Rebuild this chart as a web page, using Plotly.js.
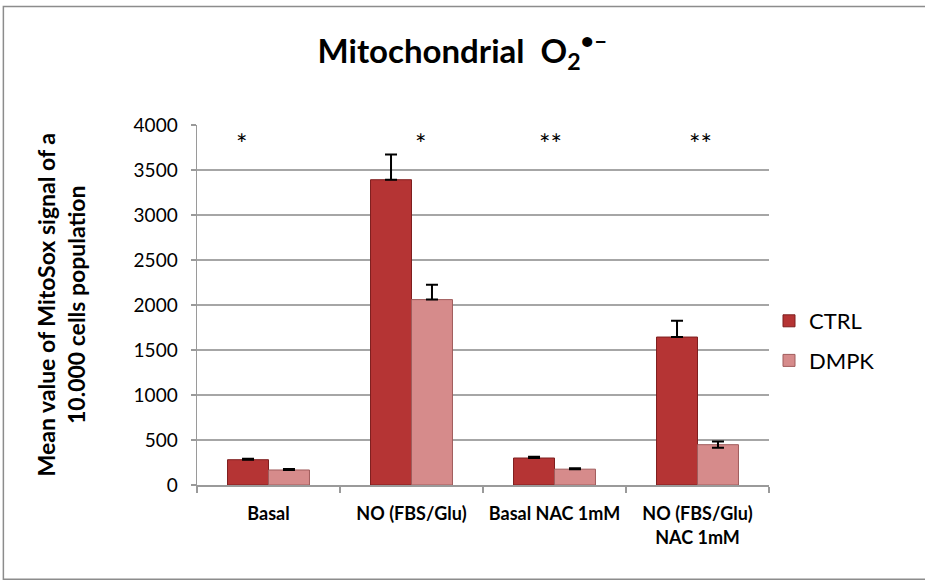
<!DOCTYPE html>
<html>
<head>
<meta charset="utf-8">
<script src="https://cdn.plot.ly/plotly-3.0.1.min.js"></script>
<style>html,body{margin:0;padding:0;background:#fff;}#chart{width:925px;height:585px;}</style>
</head>
<body>
<div id="chart"></div>
<script>
const categories = ["Basal", "NO (FBS/Glu)", "Basal NAC 1mM", "NO (FBS/Glu)<br>NAC 1mM"];
const ctrlValues = [281, 3392, 300, 1644];
const ctrlErrors = [10, 280, 15, 182];
const dmpkValues = [167, 2060, 176, 448];
const dmpkErrors = [10, 165, 10, 35];
const dmpkErrorsMinus = [0, 0, 0, 35];
const ctrlErrorsMinus = [0, 0, 0, 0];
const significance = ["*", "*", "**", "**"];
const sigLevel = [3800, 3800, 3800, 3800];
const yTicks = [0, 500, 1000, 1500, 2000, 2500, 3000, 3500, 4000];

const font = "Lato, 'Open Sans', sans-serif";

const traces = [
  {
    type: "bar", name: "CTRL", x: categories, y: ctrlValues, legendgroup: "a",
    marker: {color: "#B53434", line: {color: "#7E1E1E", width: 1}},
    error_y: {type: "data", array: ctrlErrors, arrayminus: ctrlErrorsMinus, symmetric: false, color: "#000", thickness: 2, width: 6}
  },
  {
    type: "bar", name: "DMPK", x: categories, y: dmpkValues, legendgroup: "b",
    marker: {color: "#D68B8B", line: {color: "#A05C5C", width: 1}},
    error_y: {type: "data", array: dmpkErrors, arrayminus: dmpkErrorsMinus, symmetric: false, color: "#000", thickness: 2, width: 6}
  }
];

const sigShift = [-27, 9, -4, 3];
const annotations = categories.map((c, i) => ({
  x: c, y: sigLevel[i], xref: "x", yref: "y", text: significance[i], showarrow: false,
  xshift: sigShift[i], yanchor: "middle", font: {family: font, size: 27, color: "#000"}
}));
annotations.push({
  x: -0.237, y: 0.5, xref: "paper", yref: "paper", textangle: -90, showarrow: false,
  text: "<b>Mean value of MitoSox signal of a<br>10.000 cells population</b>",
  font: {family: font, size: 23, color: "#000", weight: "bold"}, xanchor: "center", yanchor: "middle"
});

const layout = {
  width: 925, height: 585,
  margin: {l: 197, r: 156, t: 125, b: 100},
  paper_bgcolor: "#fff", plot_bgcolor: "#fff",
  title: {
    text: "<b>Mitochondrial  O<sub>2</sub><sup>•–</sup></b>",
    x: 0.5, xref: "container", y: 0.912, yref: "container", yanchor: "middle", xanchor: "center",
    font: {family: font, size: 33, color: "#000", weight: "bold"}
  },
  barmode: "group", bargap: 0.427, bargroupgap: 0,
  xaxis: {
    showgrid: false, showline: true, linecolor: "#9a9a9a", linewidth: 1.5,
    ticks: "outside", tickson: "boundaries", ticklen: 6, tickcolor: "#9a9a9a", tickwidth: 1.5,
    tickfont: {family: font, size: 18, color: "#000", weight: "bold"},
    tickangle: 0,
    ticklabelstandoff: 12,
    fixedrange: true
  },
  yaxis: {
    range: [0, 4000], tickvals: yTicks, ticktext: yTicks.map(String),
    showgrid: true, gridcolor: "#a6a6a6", gridwidth: 1.5,
    showline: true, linecolor: "#9a9a9a", linewidth: 1.5, zeroline: false,
    ticks: "outside", ticklen: 5, tickcolor: "#9a9a9a", tickwidth: 1.5,
    tickfont: {family: font, size: 19, color: "#000"},
    ticklabelstandoff: 9,
    fixedrange: true
  },
  legend: {
    x: 1.0, y: 0.40, xanchor: "left", yanchor: "middle",
    font: {family: font, size: 22, color: "#000"},
    traceorder: "grouped", tracegroupgap: 8, bgcolor: "rgba(0,0,0,0)"
  },
  annotations: annotations,
  shapes: [{
    type: "rect", xref: "paper", yref: "paper",
    x0: -0.3385, x1: 1.29, y0: -0.262, y1: 1.329,
    line: {color: "#8c8c8c", width: 1.5}, fillcolor: "rgba(0,0,0,0)", layer: "below"
  }],
  showlegend: true
};

Plotly.newPlot("chart", traces, layout, {displayModeBar: false, staticPlot: true});
</script>
</body>
</html>
